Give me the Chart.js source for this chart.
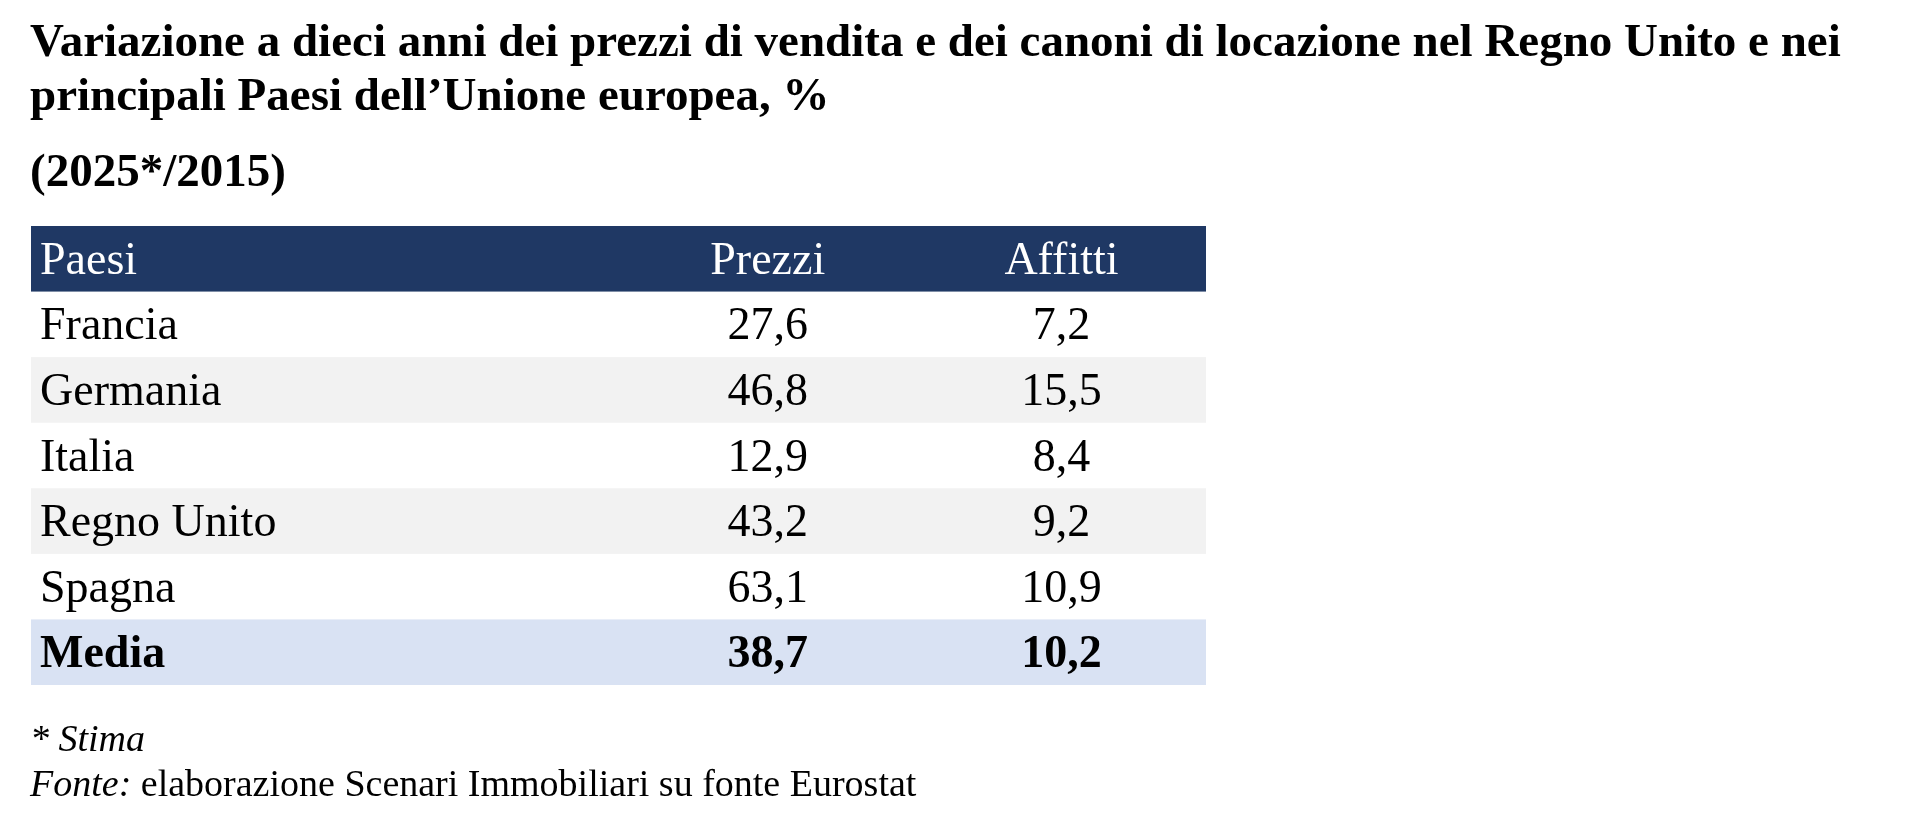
<!DOCTYPE html>
<html><head><meta charset="utf-8">
<script src="https://cdn.jsdelivr.net/npm/chart.js"></script>
<style>html,body{margin:0;padding:0;background:#fff}#c{display:block}</style>
</head><body>
<div style="width:1920px;height:819px"><canvas id="c"></canvas></div>
<script>
const titleLines = ["Variazione a dieci anni dei prezzi di vendita e dei canoni di locazione nel Regno Unito e nei", "principali Paesi dell’Unione europea, %"];
const subtitle = "(2025*/2015)";
const headers = ["Paesi", "Prezzi", "Affitti"];
const countries = ["Francia", "Germania", "Italia", "Regno Unito", "Spagna", "Media"];
const prezzi = [27.6, 46.8, 12.9, 43.2, 63.1, 38.7];
const affitti = [7.2, 15.5, 8.4, 9.2, 10.9, 10.2];
const note = "* Stima";
const sourceLabel = "Fonte:";
const sourceText = " elaborazione Scenari Immobiliari su fonte Eurostat";

const rows = [headers[0], ...countries];
const fmt = v => v.toFixed(1).replace('.', ',');
const SERIF = '"Liberation Serif", "Times New Roman", serif';

const tablePlugin = {
  id: 'table',
  beforeDatasetsDraw(chart) {
    const ctx = chart.ctx, y = chart.scales.y, x = chart.scales.x;
    const L = chart.chartArea.left, R = chart.chartArea.right;
    const band = y.getPixelForValue(1) - y.getPixelForValue(0);
    ctx.save();
    rows.forEach((r, i) => {
      const cy = y.getPixelForValue(i);
      let fill = null;
      if (i === 0) fill = '#1f3864';
      else if (i === rows.length - 1) fill = '#d9e2f3';
      else if (i % 2 === 0) fill = '#f2f2f2';
      if (fill) { ctx.fillStyle = fill; ctx.fillRect(L, cy - band / 2, R - L, band); }
    });
    const colP = x.getPixelForValue(0.627), colA = x.getPixelForValue(0.877);
    ctx.textBaseline = 'middle';
    rows.forEach((r, i) => {
      const cy = y.getPixelForValue(i) + 3;
      const bold = i === rows.length - 1;
      ctx.font = (bold ? 'bold ' : '') + '46px ' + SERIF;
      ctx.fillStyle = i === 0 ? '#ffffff' : '#000000';
      ctx.textAlign = 'left';
      ctx.fillText(r, L + 9, cy);
      ctx.textAlign = 'center';
      if (i === 0) {
        ctx.fillText(headers[1], colP, cy);
        ctx.fillText(headers[2], colA, cy);
      } else {
        ctx.fillText(fmt(prezzi[i - 1]), colP, cy);
        ctx.fillText(fmt(affitti[i - 1]), colA, cy);
      }
    });
    ctx.restore();
  },
  afterDraw(chart) {
    const ctx = chart.ctx;
    ctx.save();
    ctx.fillStyle = '#000';
    ctx.textBaseline = 'alphabetic';
    ctx.textAlign = 'left';
    ctx.font = 'bold 47px ' + SERIF;
    ctx.fillText(titleLines[0], 30, 56);
    ctx.fillText(titleLines[1], 30, 110);
    ctx.fillText(subtitle, 30, 186);
    ctx.font = 'italic 38px ' + SERIF;
    ctx.fillText(note, 30, 751);
    ctx.fillText(sourceLabel, 30, 796);
    const w = ctx.measureText(sourceLabel).width;
    ctx.font = '38px ' + SERIF;
    ctx.fillText(sourceText, 30 + w, 796);
    ctx.restore();
  }
};

new Chart(document.getElementById('c'), {
  type: 'bar',
  data: {
    labels: rows,
    datasets: [
      { label: headers[1], data: [null, ...prezzi], backgroundColor: 'rgba(0,0,0,0)' },
      { label: headers[2], data: [null, ...affitti], backgroundColor: 'rgba(0,0,0,0)' }
    ]
  },
  options: {
    indexAxis: 'y',
    responsive: true, maintainAspectRatio: false, animation: false,
    layout: { padding: { left: 31, right: 714, top: 226, bottom: 134 } },
    scales: {
      x: { type: 'linear', min: 0, max: 1, display: false },
      y: { type: 'category', display: false, offset: true }
    },
    plugins: { legend: { display: false }, tooltip: { enabled: false } }
  },
  plugins: [tablePlugin]
});
</script>
</body></html>
